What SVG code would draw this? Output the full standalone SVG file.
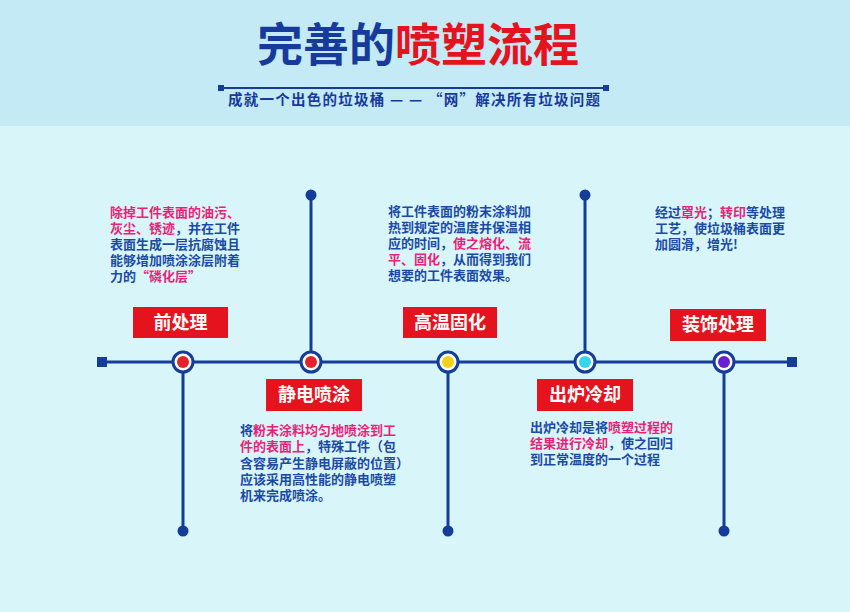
<svg xmlns="http://www.w3.org/2000/svg" width="850" height="612" viewBox="0 0 850 612">
<defs>
<style>
.cjk{font-family:"Noto Sans CJK SC","Noto Sans",sans-serif;font-weight:700}
.body{font-size:13px;fill:#1b4aa6}
.pk{fill:#ea1f78}
.lbl{font-size:18px;fill:#ffffff;text-anchor:middle}
.box{fill:#e5131e}
.ln{stroke:#163c9a;stroke-width:3;fill:none}
.dot{fill:#163c9a}
.ring{fill:#ffffff;stroke:#163c9a;stroke-width:3}
</style>
</defs>
<rect x="0" y="0" width="850" height="612" fill="#d8f6f9"/>
<rect x="0" y="0" width="850" height="126" fill="#c4eaf6"/>

<g id="title">
<text class="cjk" x="418" y="61" font-size="46" text-anchor="middle"><tspan fill="#173b9c">完善的</tspan><tspan fill="#e5131e">喷塑流程</tspan></text>
<line x1="221" y1="88" x2="606" y2="88" stroke="#163c9a" stroke-width="2"/>
<rect x="218" y="85" width="6" height="6" fill="#163c9a"/>
<rect x="603" y="85" width="6" height="6" fill="#163c9a"/>
<text class="cjk" x="228" y="105" font-size="14.5" fill="#173b9c" textLength="372" lengthAdjust="spacing">成就一个出色的垃圾桶 — — “网”解决所有垃圾问题</text>
</g>

<g id="connectors">
<line class="ln" x1="104" y1="362" x2="790" y2="362"/>
<rect x="97" y="357" width="10" height="10" fill="#163c9a"/>
<rect x="787" y="357" width="10" height="10" fill="#163c9a"/>
<line class="ln" x1="183" y1="362" x2="183" y2="531"/>
<line class="ln" x1="311" y1="362" x2="311" y2="195"/>
<line class="ln" x1="448" y1="362" x2="448" y2="531"/>
<line class="ln" x1="585" y1="362" x2="585" y2="195"/>
<line class="ln" x1="724" y1="362" x2="724" y2="531"/>
<circle class="dot" cx="183" cy="531" r="5.5"/>
<circle class="dot" cx="311" cy="195" r="5.5"/>
<circle class="dot" cx="448" cy="531" r="5.5"/>
<circle class="dot" cx="585" cy="195" r="5.5"/>
<circle class="dot" cx="724" cy="531" r="5.5"/>
</g>

<g id="node-qianchuli">
<circle class="ring" cx="183" cy="362" r="10"/>
<circle cx="183" cy="362" r="6" fill="#e5232a"/>
<rect class="box" x="133" y="307" width="95" height="31"/>
<text class="cjk lbl" x="180.5" y="329">前处理</text>
<text class="cjk body pk" x="110" y="217">除掉工件表面的油污、</text>
<text class="cjk body" x="110" y="233"><tspan class="pk">灰尘、锈迹</tspan>，并在工件</text>
<text class="cjk body" x="110" y="249">表面生成一层抗腐蚀且</text>
<text class="cjk body" x="110" y="265">能够增加喷涂涂层附着</text>
<text class="cjk body" x="110" y="281">力的<tspan class="pk">“磷化层”</tspan></text>
</g>

<g id="node-jingdian">
<circle class="ring" cx="311" cy="362" r="10"/>
<circle cx="311" cy="362" r="6" fill="#e5232a"/>
<rect class="box" x="266" y="379" width="96" height="32"/>
<text class="cjk lbl" x="314" y="401">静电喷涂</text>
<text class="cjk body" x="240" y="435">将<tspan class="pk">粉末涂料均匀地喷涂到工</tspan></text>
<text class="cjk body" x="240" y="451"><tspan class="pk">件的表面上</tspan>，特殊工件（包</text>
<text class="cjk body" x="240" y="467.5">含容易产生静电屏蔽的位置）</text>
<text class="cjk body" x="240" y="484">应该采用高性能的静电喷塑</text>
<text class="cjk body" x="240" y="500">机来完成喷涂。</text>
</g>

<g id="node-gaowen">
<circle class="ring" cx="448" cy="362" r="10"/>
<circle cx="448" cy="362" r="6" fill="#f2d21b"/>
<rect class="box" x="403" y="307" width="94" height="31"/>
<text class="cjk lbl" x="450" y="329">高温固化</text>
<text class="cjk body" x="388" y="216">将工件表面的粉末涂料加</text>
<text class="cjk body" x="388" y="232">热到规定的温度并保温相</text>
<text class="cjk body" x="388" y="248">应的时间，<tspan class="pk">使之熔化、流</tspan></text>
<text class="cjk body" x="388" y="264"><tspan class="pk">平、固化</tspan>，从而得到我们</text>
<text class="cjk body" x="388" y="280">想要的工件表面效果。</text>
</g>

<g id="node-chulu">
<circle class="ring" cx="585" cy="362" r="10"/>
<circle cx="585" cy="362" r="6" fill="#35d6ec"/>
<rect class="box" x="537" y="379" width="96" height="32"/>
<text class="cjk lbl" x="585" y="401">出炉冷却</text>
<text class="cjk body" x="530" y="432">出炉冷却是将<tspan class="pk">喷塑过程的</tspan></text>
<text class="cjk body" x="530" y="448"><tspan class="pk">结果进行冷却</tspan>，使之回归</text>
<text class="cjk body" x="530" y="464">到正常温度的一个过程</text>
</g>

<g id="node-zhuangshi">
<circle class="ring" cx="724" cy="362" r="10"/>
<circle cx="724" cy="362" r="6" fill="#6a1fd0"/>
<rect class="box" x="670" y="309" width="96" height="32"/>
<text class="cjk lbl" x="718" y="331">装饰处理</text>
<text class="cjk body" x="655" y="217">经过<tspan class="pk">罩光</tspan>；<tspan class="pk">转印</tspan>等处理</text>
<text class="cjk body" x="655" y="233">工艺，使垃圾桶表面更</text>
<text class="cjk body" x="655" y="249">加圆滑，增光!</text>
</g>
</svg>
